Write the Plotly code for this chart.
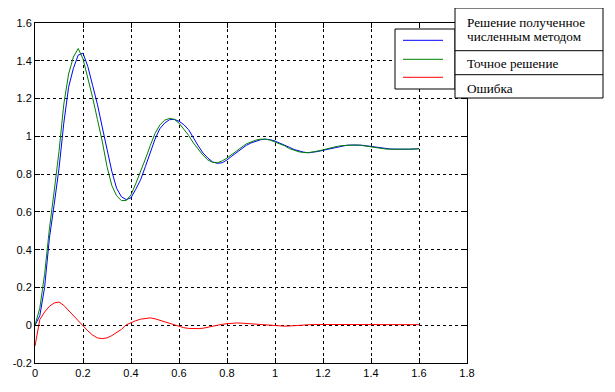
import plotly.graph_objects as go

# ---------------- data ----------------
t = [0.00, 0.02, 0.04, 0.06, 0.08, 0.10, 0.12, 0.14, 0.16, 0.18,
     0.20, 0.22, 0.24, 0.26, 0.28, 0.30, 0.32, 0.34, 0.36, 0.38,
     0.40, 0.42, 0.44, 0.46, 0.48, 0.50, 0.52, 0.54, 0.56, 0.58,
     0.60, 0.62, 0.64, 0.66, 0.68, 0.70, 0.72, 0.74, 0.76, 0.78,
     0.80, 0.82, 0.84, 0.86, 0.88, 0.90, 0.92, 0.94, 0.96, 0.98,
     1.00, 1.02, 1.04, 1.06, 1.08, 1.10, 1.12, 1.14, 1.16, 1.18,
     1.20, 1.22, 1.24, 1.26, 1.28, 1.30, 1.32, 1.34, 1.36, 1.38,
     1.40, 1.42, 1.44, 1.46, 1.48, 1.50, 1.52, 1.54, 1.56, 1.58, 1.60]

numerical = [0.00, 0.05, 0.20, 0.46, 0.64, 0.83, 1.07, 1.26, 1.36, 1.43,
             1.44, 1.37, 1.27, 1.17, 1.05, 0.93, 0.815, 0.725, 0.68, 0.665,
             0.675, 0.72, 0.77, 0.84, 0.91, 0.985, 1.04, 1.07, 1.088, 1.09,
             1.08, 1.062, 1.035, 0.99, 0.95, 0.912, 0.885, 0.865, 0.857, 0.86,
             0.875, 0.895, 0.915, 0.935, 0.952, 0.965, 0.975, 0.982, 0.985, 0.982,
             0.975, 0.965, 0.955, 0.942, 0.930, 0.922, 0.916, 0.913, 0.915, 0.920,
             0.926, 0.932, 0.939, 0.945, 0.950, 0.953, 0.954, 0.954, 0.953, 0.950,
             0.946, 0.942, 0.938, 0.935, 0.933, 0.932, 0.931, 0.931, 0.932, 0.933, 0.935]

exact = [0.00, 0.09, 0.27, 0.51, 0.71, 0.92, 1.17, 1.33, 1.42, 1.465,
         1.41, 1.31, 1.206, 1.09, 0.975, 0.84, 0.74, 0.685, 0.66, 0.66,
         0.69, 0.75, 0.81, 0.88, 0.95, 1.015, 1.06, 1.085, 1.095, 1.09,
         1.07, 1.04, 1.005, 0.965, 0.93, 0.90, 0.875, 0.862, 0.86, 0.87,
         0.885, 0.905, 0.925, 0.945, 0.96, 0.97, 0.98, 0.985, 0.985, 0.98,
         0.97, 0.96, 0.95, 0.935, 0.925, 0.918, 0.914, 0.914, 0.918, 0.922,
         0.928, 0.935, 0.942, 0.947, 0.951, 0.953, 0.954, 0.954, 0.952, 0.948,
         0.944, 0.940, 0.937, 0.933, 0.932, 0.931, 0.931, 0.932, 0.932, 0.933, 0.934]

error = [-0.11, 0.03, 0.07, 0.10, 0.118, 0.123, 0.105, 0.078, 0.05, 0.022,
         -0.002, -0.03, -0.052, -0.067, -0.071, -0.067, -0.055, -0.04, -0.022, 0.002,
         0.014, 0.024, 0.032, 0.037, 0.039, 0.034, 0.026, 0.017, 0.007, -0.001,
         -0.008, -0.013, -0.017, -0.018, -0.018, -0.016, -0.010, -0.005, 0.000, 0.005,
         0.008, 0.011, 0.012, 0.011, 0.009, 0.007, 0.005, 0.003, 0.000, -0.002,
         -0.004, -0.005, -0.005, -0.004, -0.002, 0.000, 0.002, 0.003, 0.004, 0.004,
         0.004, 0.004, 0.004, 0.004, 0.004, 0.004, 0.004, 0.004, 0.001, 0.000,
         0.000, 0.000, 0.000, 0.000, 0.000, 0.000, 0.000, 0.000, 0.003, 0.003, 0.003]

x_ticks = [0, 0.2, 0.4, 0.6, 0.8, 1.0, 1.2, 1.4, 1.6, 1.8]
x_tick_text = ["0", "0.2", "0.4", "0.6", "0.8", "1", "1.2", "1.4", "1.6", "1.8"]
y_ticks = [-0.2, 0, 0.2, 0.4, 0.6, 0.8, 1.0, 1.2, 1.4, 1.6]
y_tick_text = ["-0.2", "0", "0.2", "0.4", "0.6", "0.8", "1", "1.2", "1.4", "1.6"]

legend_labels = ["Решение полученное", "численным методом", "Точное решение", "Ошибка"]
series_colors = ["#0000ff", "#008000", "#ff0000"]

# ---------------- layout geometry ----------------
OFF = 8                      # default page body margin
W, H = 615 - OFF, 392 - OFF  # figure size that fits in the window
# plot area in window pixels (from the reference)
PX0, PX1, PY0, PY1 = 35, 467, 23, 363
L, T = PX0 - OFF, PY0 - OFF
R, B = W - (PX1 - OFF), H - (PY1 - OFF)
PW, PH = PX1 - PX0, PY1 - PY0


def xp(px):
    return (px - PX0) / PW


def yp(py):
    return (PY1 - py) / PH


fig = go.Figure()
for ys, c in zip([numerical, exact, error], series_colors):
    fig.add_trace(go.Scatter(x=t, y=ys, mode="lines",
                             line=dict(color=c, width=1), showlegend=False,
                             hoverinfo="skip"))

axis_common = dict(
    showline=True, linecolor="black", linewidth=1, mirror="ticks",
    ticks="inside", ticklen=5, tickcolor="black", tickwidth=1,
    showgrid=True, gridcolor="black", gridwidth=1, griddash="3px,3px",
    zeroline=False, tickfont=dict(family="Liberation Sans, Arial", size=11, color="black"),
)

fig.update_layout(
    template="none",
    width=W, height=H,
    margin=dict(l=L, r=R, t=T, b=B, pad=0),
    paper_bgcolor="white", plot_bgcolor="white",
    xaxis=dict(range=[0, 1.8], tickvals=x_ticks, ticktext=x_tick_text, **axis_common),
    yaxis=dict(range=[-0.2, 1.6], tickvals=y_ticks, ticktext=y_tick_text, **axis_common),
    showlegend=False,
)

shapes = []
# legend box with line samples
shapes.append(dict(type="rect", xref="paper", yref="paper",
                   x0=xp(395), x1=xp(455), y0=yp(89), y1=yp(29),
                   line=dict(color="black", width=1), fillcolor="white", layer="above"))
for c, py in zip(series_colors, [40.3, 59.3, 77.3]):
    shapes.append(dict(type="line", xref="paper", yref="paper",
                       x0=xp(403), x1=xp(443), y0=yp(py), y1=yp(py),
                       line=dict(color=c, width=1), layer="above"))
# label table
shapes.append(dict(type="rect", xref="paper", yref="paper",
                   x0=xp(455), x1=xp(603), y0=yp(98), y1=yp(8),
                   line=dict(color="black", width=1), fillcolor="white", layer="above"))
for py in [50.7, 74.7]:
    shapes.append(dict(type="line", xref="paper", yref="paper",
                       x0=xp(455), x1=xp(603), y0=yp(py), y1=yp(py),
                       line=dict(color="black", width=1), layer="above"))
fig.update_layout(shapes=shapes)

for txt, py in zip(legend_labels, [22.7, 36.7, 63.3, 88.3]):
    fig.add_annotation(text=txt, xref="paper", yref="paper", x=xp(465), y=yp(py),
                       xanchor="left", yanchor="middle", showarrow=False,
                       font=dict(family="Liberation Serif, Times New Roman", size=13.2, color="black"))

fig.write_html("out.html", config={"displayModeBar": False})
